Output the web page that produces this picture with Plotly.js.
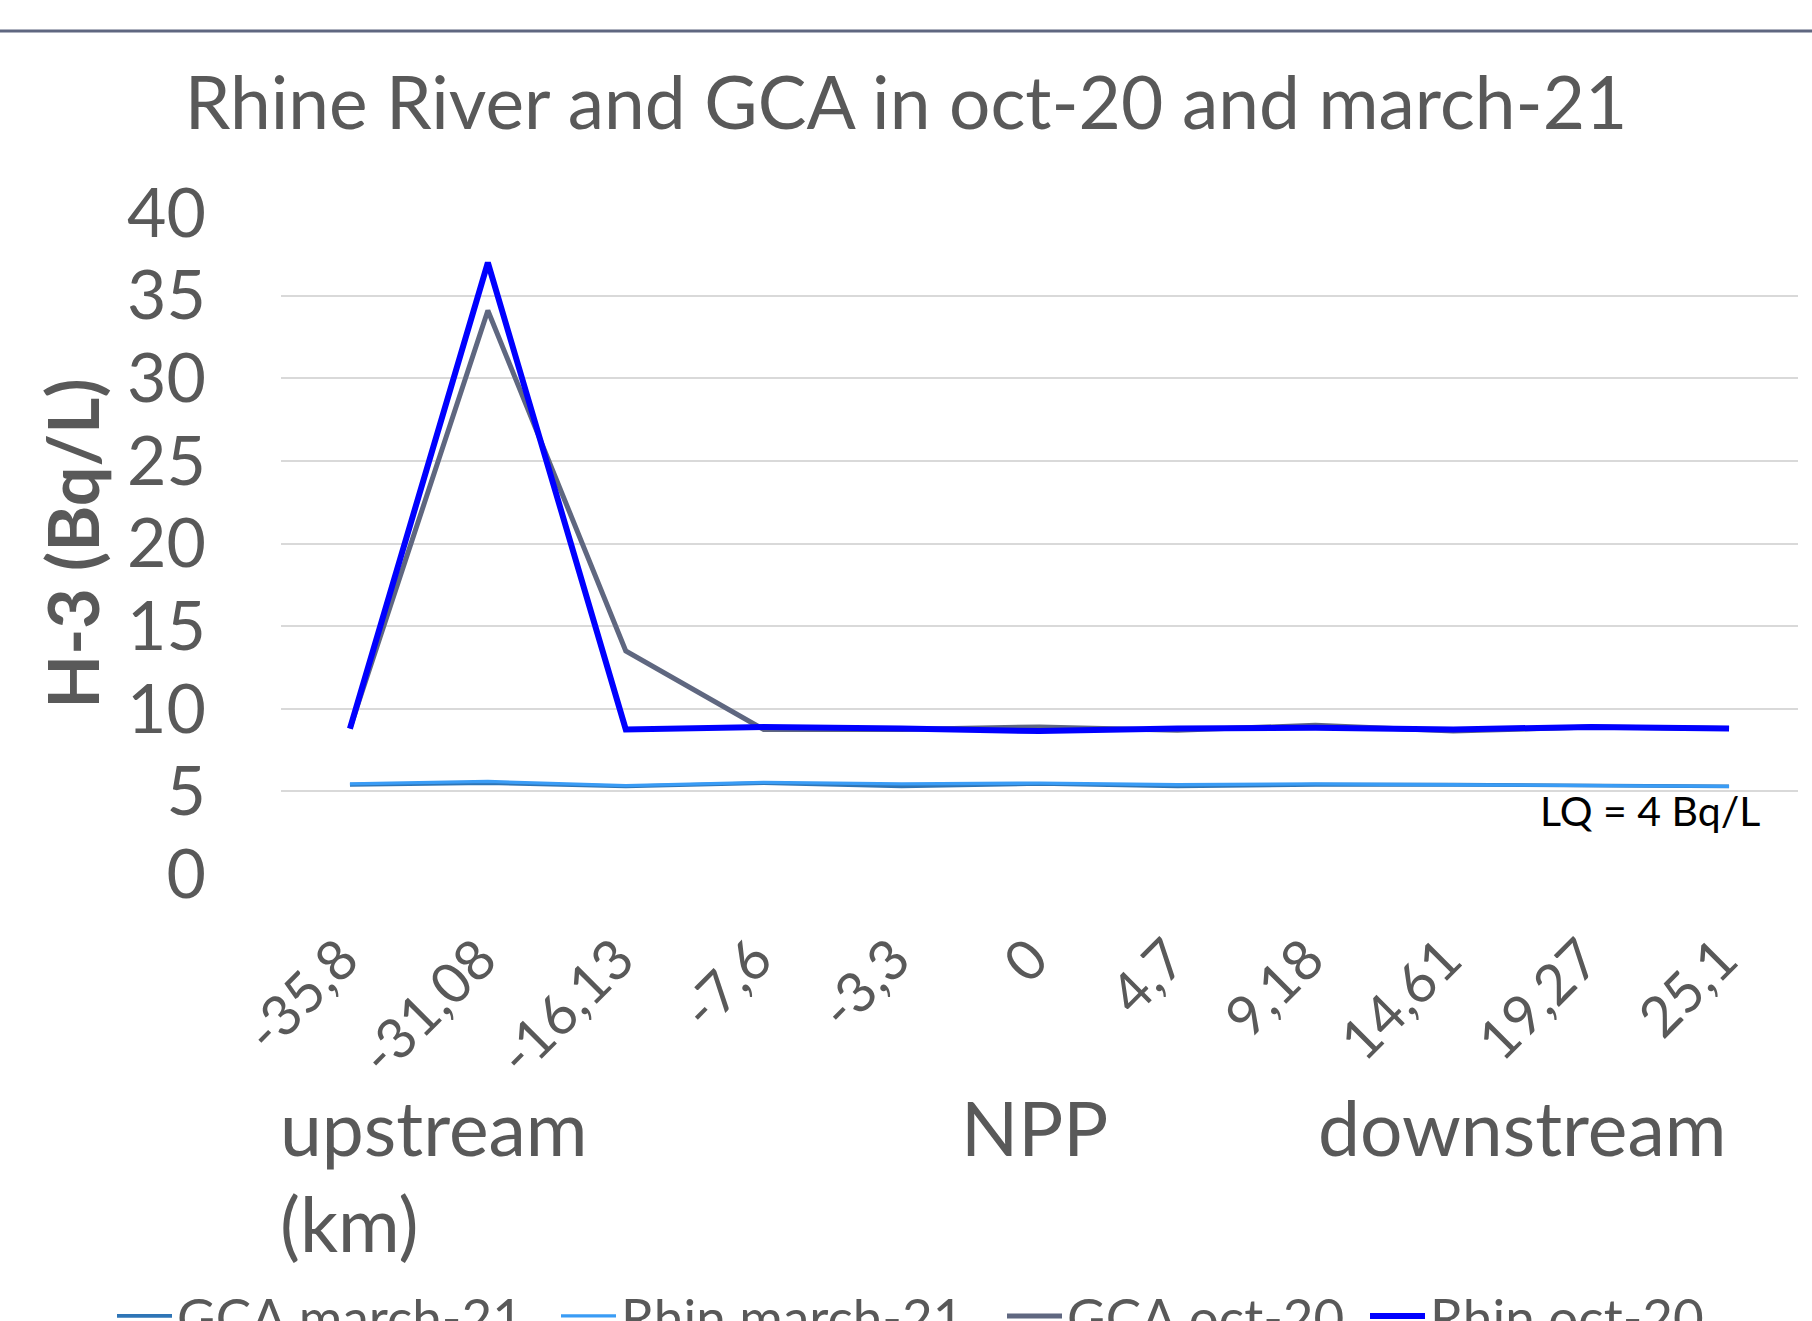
<!DOCTYPE html>
<html>
<head>
<meta charset="utf-8">
<script src="https://cdn.plot.ly/plotly-3.0.1.min.js"></script>
<style>
html, body { margin: 0; padding: 0; overflow: hidden; background: #ffffff; width: 1812px; height: 1321px; }
#chart { width: 1812px; height: 1360px; }
</style>
</head>
<body>
<div id="chart"></div>
<script>
// Categories: distance along the river (km)
const categories = ['-35,8', '-31,08', '-16,13', '-7,6', '-3,3', '0', '4,7', '9,18', '14,61', '19,27', '25,1'];

// H-3 activity (Bq/L)
const gcaMarch21  = [5.4, 5.5, 5.3, 5.5, 5.3, 5.45, 5.3, 5.4, 5.4, 5.35, 5.3];
const rhinMarch21 = [5.45, 5.6, 5.35, 5.55, 5.45, 5.5, 5.4, 5.45, 5.4, 5.35, 5.3];
const gcaOct20    = [8.8, 34.1, 13.5, 8.75, 8.75, 8.9, 8.7, 9.0, 8.65, 8.9, 8.8];
const rhinOct20   = [8.8, 37.0, 8.75, 8.9, 8.8, 8.65, 8.8, 8.85, 8.75, 8.9, 8.8];

const seriesNames = ['GCA march-21', 'Rhin march-21', 'GCA oct-20', 'Rhin oct-20'];
const yTickVals = [0, 5, 10, 15, 20, 25, 30, 35, 40];

const FONT = 'Lato, "Open Sans", sans-serif';
const GREY = '#595959';

function line(name, y, color, width, legendId) {
  return {
    type: 'scatter', mode: 'lines', name: name,
    x: categories, y: y,
    line: { color: color, width: width, shape: 'linear' },
    legend: legendId,
    hoverinfo: 'skip'
  };
}

const data = [
  line(seriesNames[0], gcaMarch21, '#2E75B6', 3.8, 'legend'),
  line(seriesNames[1], rhinMarch21, '#3A9CF5', 3.3, 'legend2'),
  line(seriesNames[2], gcaOct20, '#5F6780', 5, 'legend3'),
  line(seriesNames[3], rhinOct20, '#0000FF', 6, 'legend4')
];

function legendAt(px) {
  return {
    orientation: 'h',
    x: (px - 281) / 1517, xanchor: 'left',
    y: 1 - (1316 - 213) / 661, yanchor: 'middle',
    font: { family: FONT, size: 53, color: GREY },
    itemwidth: 55,
    bgcolor: 'rgba(0,0,0,0)'
  };
}

const layout = {
  width: 1812, height: 1360,
  margin: { l: 281, r: 14, t: 213, b: 486, autoexpand: false },
  paper_bgcolor: '#ffffff', plot_bgcolor: '#ffffff',
  font: { family: FONT, color: GREY },
  title: {
    text: 'Rhine River and GCA in oct-20 and march-21',
    font: { family: FONT, size: 73, color: GREY },
    x: 906 / 1812, xanchor: 'center', xref: 'container',
    y: 1 - 103 / 1360, yanchor: 'middle', yref: 'container'
  },
  xaxis: {
    type: 'category',
    range: [-0.5, categories.length - 0.5],
    tickangle: -45,
    tickfont: { family: FONT, size: 56, color: GREY },
    showgrid: false, zeroline: false, showline: false,
    ticks: '', ticklabelstandoff: 40, ticklabelshift: -8,
    automargin: false
  },
  yaxis: {
    range: [0, 40],
    tickvals: yTickVals,
    tickfont: { family: FONT, size: 68, color: GREY },
    showgrid: true, gridcolor: '#D9D9D9', gridwidth: 2,
    zeroline: false, showline: false,
    ticks: '', ticklabelstandoff: 74,
    automargin: false,
    title: {
      text: '<b>H-3 (Bq/L)</b>',
      font: { family: FONT, size: 70, color: GREY },
      standoff: 4
    }
  },
  showlegend: true,
  legend: legendAt(112),
  legend2: legendAt(556),
  legend3: legendAt(1002),
  legend4: legendAt(1365),
  shapes: [{
    type: 'line', xref: 'paper', yref: 'paper',
    x0: -281 / 1517, x1: 1 + 14 / 1517,
    y0: 1 + (213 - 31) / 661, y1: 1 + (213 - 31) / 661,
    line: { color: '#5F6780', width: 3 }
  }],
  annotations: [
    { text: 'LQ = 4 Bq/L', xref: 'paper', yref: 'paper',
      x: (1650 - 281) / 1517, y: (874 - 810) / 661, xanchor: 'center', yanchor: 'middle',
      showarrow: false, font: { family: FONT, size: 41, color: '#000000' } },
    { text: 'upstream', xref: 'paper', yref: 'paper',
      x: (278 - 281) / 1517, y: (874 - 1127) / 661, xanchor: 'left', yanchor: 'middle',
      showarrow: false, font: { family: FONT, size: 75, color: GREY } },
    { text: '(km)', xref: 'paper', yref: 'paper',
      x: (278 - 281) / 1517, y: (874 - 1223) / 661, xanchor: 'left', yanchor: 'middle',
      showarrow: false, font: { family: FONT, size: 75, color: GREY } },
    { text: 'NPP', xref: 'paper', yref: 'paper',
      x: (1034 - 281) / 1517, y: (874 - 1127) / 661, xanchor: 'center', yanchor: 'middle',
      showarrow: false, font: { family: FONT, size: 75, color: GREY } },
    { text: 'downstream', xref: 'paper', yref: 'paper',
      x: (1522 - 281) / 1517, y: (874 - 1127) / 661, xanchor: 'center', yanchor: 'middle',
      showarrow: false, font: { family: FONT, size: 75, color: GREY } }
  ]
};

Plotly.newPlot('chart', data, layout, { staticPlot: true, displayModeBar: false });
</script>
</body>
</html>
